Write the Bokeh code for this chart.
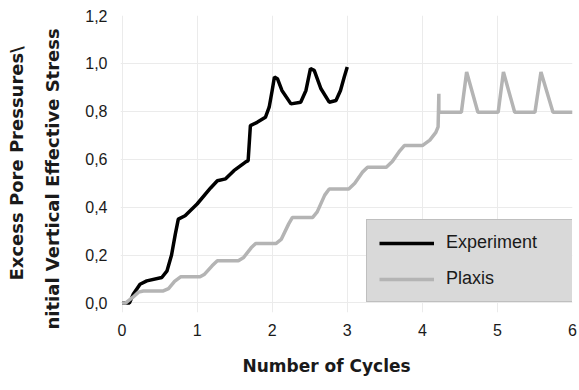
from bokeh.plotting import figure
from bokeh.models import Range1d, FixedTicker, Legend, LegendItem, Title
from bokeh.embed import file_html
from bokeh.resources import INLINE

# ---- data ----
exp_x = [0.0, 0.1, 0.15, 0.24, 0.33, 0.53, 0.6, 0.66, 0.71, 0.75, 0.84, 1.0, 1.18, 1.27,
         1.38, 1.49, 1.64, 1.68, 1.71, 1.8, 1.91, 1.96, 2.0, 2.03, 2.07, 2.13, 2.25, 2.38,
         2.45, 2.51, 2.56, 2.65, 2.76, 2.85, 2.91, 2.96, 3.0]
exp_y = [0.0, 0.0, 0.036, 0.078, 0.092, 0.106, 0.134, 0.2, 0.287, 0.35, 0.364, 0.413, 0.48,
         0.51, 0.518, 0.552, 0.587, 0.594, 0.74, 0.754, 0.775, 0.817, 0.887, 0.943, 0.936,
         0.887, 0.831, 0.838, 0.887, 0.978, 0.971, 0.894, 0.838, 0.845, 0.887, 0.943, 0.985]

plx_x = [0.0, 0.05, 0.15, 0.22, 0.285, 0.55, 0.62, 0.7, 0.78, 1.04, 1.1, 1.2, 1.27, 1.55,
         1.62, 1.72, 1.78, 2.05, 2.12, 2.22, 2.27, 2.54, 2.6, 2.7, 2.76, 3.02, 3.1, 3.2,
         3.27, 3.52, 3.6, 3.7, 3.76, 4.0, 4.1, 4.18, 4.21, 4.22, 4.22, 4.25, 4.52, 4.59,
         4.74, 5.01, 5.08, 5.23, 5.5, 5.58, 5.74, 6.0]
plx_y = [0.0, 0.0, 0.025, 0.045, 0.05, 0.05, 0.06, 0.09, 0.109, 0.109, 0.12, 0.155, 0.176,
         0.176, 0.19, 0.23, 0.248, 0.248, 0.265, 0.33, 0.357, 0.357, 0.38, 0.45, 0.476,
         0.476, 0.5, 0.545, 0.566, 0.566, 0.59, 0.635, 0.657, 0.657, 0.68, 0.712, 0.735,
         0.873, 0.796, 0.796, 0.796, 0.964, 0.796, 0.796, 0.964, 0.796, 0.796, 0.964,
         0.796, 0.796]

x_ticks = [0, 1, 2, 3, 4, 5, 6]
y_ticks = [0.0, 0.2, 0.4, 0.6, 0.8, 1.0, 1.2]
y_tick_labels = ["0,0", "0,2", "0,4", "0,6", "0,8", "1,0", "1,2"]

series_names = ["Experiment", "Plaxis"]
series_colors = ["#000000", "#b4b4b4"]

x_title = "Number of Cycles"
y_title_1 = "Excess Pore Pressures\\"
y_title_2 = "nitial Vertical Effective Stress"

# ---- figure ----
p = figure(width=579, height=390, output_backend="svg", toolbar_location=None,
           x_range=Range1d(-0.02, 6.0), y_range=Range1d(-0.04, 1.2),
           min_border_left=120, min_border_right=7, min_border_top=15,
           min_border_bottom=78)
p.outline_line_color = None
p.background_fill_color = "white"

r1 = p.line(exp_x, exp_y, line_color=series_colors[0], line_width=3.5)
r2 = p.line(plx_x, plx_y, line_color=series_colors[1], line_width=3.5)

for ax in (p.xaxis[0], p.yaxis[0]):
    ax.axis_line_color = None
    ax.major_tick_line_color = None
    ax.minor_tick_line_color = None
    ax.major_tick_out = 0
    ax.major_tick_in = 0
    ax.minor_tick_out = 0
    ax.major_label_text_font = "Liberation Sans"
    ax.major_label_text_font_size = "16px"
    ax.major_label_text_color = "#1a1a1a"

p.xaxis[0].ticker = FixedTicker(ticks=x_ticks)
p.yaxis[0].ticker = FixedTicker(ticks=y_ticks)
p.yaxis[0].major_label_overrides = {t: l for t, l in zip(y_ticks, y_tick_labels)}
p.xaxis[0].major_label_standoff = 11
p.yaxis[0].major_label_standoff = 13

p.xgrid[0].ticker = FixedTicker(ticks=x_ticks)
p.ygrid[0].ticker = FixedTicker(ticks=y_ticks)
p.xgrid.grid_line_color = "#ebebeb"
p.ygrid.grid_line_color = "#ebebeb"

title_style = dict(text_font="DejaVu Sans", text_font_style="bold",
                   text_color="#1a1a1a", align="left")
p.add_layout(Title(text=x_title, text_font_size="17px", standoff=30,
                   offset=122, **title_style), "below")
p.add_layout(Title(text=y_title_2, text_font_size="18px", standoff=40,
                   offset=-17, **title_style), "left")
p.add_layout(Title(text=y_title_1, text_font_size="18px", standoff=-14,
                   offset=32, **title_style), "left")

legend = Legend(items=[LegendItem(label=series_names[0], renderers=[r1]),
                       LegendItem(label=series_names[1], renderers=[r2])],
                location=(246, 10))
legend.background_fill_color = "#d9d9d9"
legend.background_fill_alpha = 1.0
legend.border_line_color = "#a6a6a6"
legend.border_line_width = 1
legend.padding = 12
legend.spacing = 15
legend.glyph_width = 55
legend.glyph_height = 20
legend.label_height = 20
legend.label_standoff = 12
legend.label_width = 114
legend.label_text_font = "Liberation Sans"
legend.label_text_font_size = "18px"
legend.label_text_color = "#1a1a1a"
legend.margin = 0
p.add_layout(legend, "center")

open("out.html", "w").write(file_html(p, INLINE))
